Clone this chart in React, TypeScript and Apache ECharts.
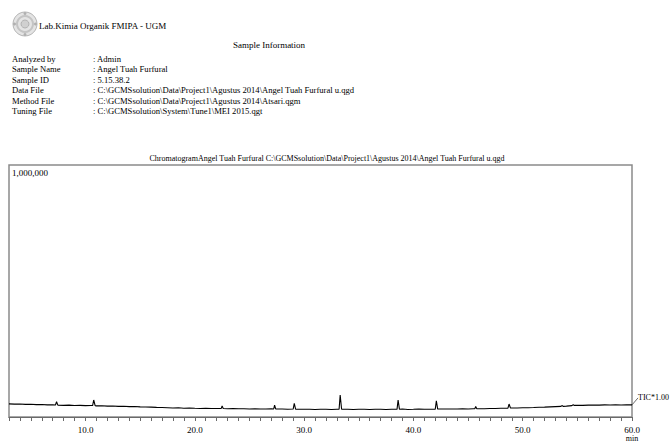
import React, { useEffect, useRef } from "react";
import * as echarts from "echarts";

// ---- header texts ----
const labTitle = "Lab.Kimia Organik FMIPA - UGM";
const infoTitle = "Sample Information";
const infoLabels = ["Analyzed by", "Sample Name", "Sample ID", "Data File", "Method File", "Tuning File"];
const infoValues = [
  ": Admin",
  ": Angel Tuah Furfural",
  ": 5.15.38.2",
  ": C:\\GCMSsolution\\Data\\Project1\\Agustus 2014\\Angel Tuah Furfural u.qgd",
  ": C:\\GCMSsolution\\Data\\Project1\\Agustus 2014\\Atsari.qgm",
  ": C:\\GCMSsolution\\System\\Tune1\\MEI 2015.qgt",
];
const chartTitle =
  "ChromatogramAngel Tuah Furfural C:\\GCMSsolution\\Data\\Project1\\Agustus 2014\\Angel Tuah Furfural u.qgd";
const traceName = "TIC*1.00";
const xUnit = "min";

// ---- axes ----
const xMin = 3;
const xMax = 60;
const xLabelValues = [10, 20, 30, 40, 50, 60];
const yMax = 1000000;
const yLabel = "1,000,000";

// ---- trace (retention time in min, intensity in thousands of counts) ----
const baseline: [number, number][] = [
  [3.0, 52], [3.5, 51], [4.0, 51.5], [4.5, 50], [5.0, 50.5], [5.5, 49], [6.0, 49.5], [6.5, 48],
  [7.0, 48.5], [7.5, 47], [8.0, 46], [8.5, 47], [9.0, 45.5], [9.5, 46], [10.0, 45], [10.5, 45.5],
  [11.0, 44], [11.5, 44.5], [12.0, 43], [12.5, 43.5], [13.0, 42], [13.5, 42.5], [14.0, 41], [14.5, 41.5],
  [15.0, 40], [15.5, 39.5], [16.0, 39], [16.5, 38], [17.0, 37.5], [17.5, 37], [18.0, 36], [18.5, 36.5],
  [19.0, 35], [19.5, 35.5], [20.0, 34.5], [20.5, 34], [21.0, 34.5], [21.5, 33.5], [22.0, 34], [23.0, 33],
  [23.5, 33.5], [24.0, 32.5], [24.5, 33], [25.0, 32], [25.5, 32.5], [26.0, 31.5], [26.5, 32], [27.0, 32.5],
  [27.5, 31.5], [28.0, 32], [28.5, 31], [29.5, 31], [30.0, 30.5], [30.5, 31], [31.0, 30], [31.5, 31],
  [32.0, 30.5], [32.5, 30], [33.0, 30.5], [33.5, 31], [34.0, 30.5], [34.5, 30], [35.0, 31], [35.5, 30.5],
  [36.0, 30], [36.5, 31], [37.0, 30.5], [37.5, 30], [38.0, 31], [39.0, 31.5], [39.5, 30], [40.0, 30.5],
  [40.5, 31.5], [41.0, 31], [41.5, 30.5], [42.5, 31.5], [43.0, 32], [43.5, 31.5], [44.0, 32], [44.5, 32.5],
  [45.0, 32], [45.5, 33], [46.0, 32.5], [46.5, 33], [47.0, 33.5], [47.5, 34], [48.0, 34.5], [48.5, 35],
  [49.0, 36], [49.5, 35.5], [50.0, 36.5], [50.5, 37], [51.0, 37.5], [51.5, 38.5], [52.0, 39], [52.5, 40],
  [53.0, 41], [53.5, 42], [54.0, 43], [54.5, 45], [55.0, 46.5], [55.5, 46], [56.0, 47], [56.5, 47.5],
  [57.0, 47], [57.5, 48], [58.0, 47.5], [58.5, 48], [59.0, 47.5], [59.5, 48], [60.0, 48],
];
const peaks: [number, number][] = [
  [7.25, 47.5], [7.35, 60.5], [7.47, 47],
  [10.65, 45.5], [10.75, 67.5], [10.88, 45],
  [22.42, 34], [22.5, 43.5], [22.6, 33.5],
  [27.22, 32], [27.3, 47.5], [27.4, 32],
  [29.0, 31.5], [29.1, 54.5], [29.22, 31],
  [33.2, 30.5], [33.3, 87.5], [33.43, 30.5],
  [38.5, 30.5], [38.6, 67.5], [38.72, 31],
  [42.0, 31], [42.1, 64.5], [42.22, 31.5],
  [45.62, 32.5], [45.7, 41.5], [45.8, 33],
  [48.65, 35], [48.75, 51.5], [48.88, 35.5],
  [53.55, 41.5], [53.62, 45.5], [53.7, 42],
  [54.55, 45], [54.62, 48.5], [54.7, 46],
];
const UNIT = 1000;

const FONT = "'Liberation Serif', 'DejaVu Serif', serif";

export default function App() {
  const ref = useRef<HTMLDivElement>(null);

  useEffect(() => {
    document.body.style.margin = "0";
    if (!ref.current) return;
    const chart = echarts.init(ref.current, null, { renderer: "svg" });

    const trace = [...baseline, ...peaks]
      .sort((a, b) => a[0] - b[0])
      .map(([t, v]) => [t, v * UNIT]);

    chart.setOption({
      animation: false,
      backgroundColor: "#ffffff",
      title: {
        text: chartTitle,
        left: 322,
        top: 149,
        textAlign: "center",
        textStyle: { fontFamily: FONT, fontSize: 8, fontWeight: "normal", color: "#000" },
      },
      grid: {
        left: 9,
        right: 38,
        top: 165,
        bottom: 24,
        outerBoundsMode: "none",
        containLabel: false,
        show: true,
        borderColor: "#8a8a8a",
        borderWidth: 1.5,
        backgroundColor: "transparent",
      },
      xAxis: {
        type: "value",
        min: xMin,
        max: xMax,
        interval: 1,
        name: xUnit,
        nameLocation: "end",
        nameGap: 0,
        nameTextStyle: {
          fontFamily: FONT,
          fontSize: 8,
          color: "#000",
          align: "center",
          verticalAlign: "top",
          padding: [17, 0, 0, 0],
        },
        axisLine: { show: true, lineStyle: { color: "#6a6a6a", width: 1.2 } },
        axisTick: { show: true, length: 4, lineStyle: { color: "#6a6a6a", width: 1 } },
        axisLabel: {
          fontFamily: FONT,
          fontSize: 9,
          color: "#000",
          margin: 8,
          formatter: (v: number) => (xLabelValues.includes(Math.round(v)) ? v.toFixed(1) : ""),
        },
        splitLine: { show: false },
      },
      yAxis: {
        type: "value",
        min: 0,
        max: yMax,
        interval: yMax,
        axisLine: { show: false },
        axisTick: { show: false },
        splitLine: { show: false },
        axisLabel: {
          inside: true,
          margin: 3,
          verticalAlign: "top",
          fontFamily: FONT,
          fontSize: 9,
          color: "#000",
          padding: [3, 0, 0, 0],
          formatter: (v: number) => (v === yMax ? yLabel : ""),
        },
      },
      series: [
        {
          type: "line",
          name: traceName,
          data: trace,
          symbol: "none",
          lineStyle: { color: "#000", width: 1.1 },
        },
      ],
    });

    const last = trace[trace.length - 1];
    const p = chart.convertToPixel({ xAxisIndex: 0, yAxisIndex: 0 }, last) as number[];

    const header: any[] = [];
    // logo emblem
    header.push({
      type: "group",
      x: 25,
      y: 24,
      children: [
        { type: "circle", shape: { cx: 0, cy: 0, r: 12 }, style: { fill: "#e4e4e4", stroke: "#b5b5b5", lineWidth: 1 } },
        { type: "ring", shape: { cx: 0, cy: 0, r: 9, r0: 7 }, style: { fill: "#c4c4c4" } },
        { type: "circle", shape: { cx: 0, cy: 0, r: 4 }, style: { fill: "#d0d0d0", stroke: "#a8a8a8", lineWidth: 0.8 } },
        { type: "circle", shape: { cx: 0, cy: -10.5, r: 1.5 }, style: { fill: "#b0b0b0" } },
        { type: "circle", shape: { cx: 0, cy: 10.5, r: 1.5 }, style: { fill: "#b0b0b0" } },
        { type: "circle", shape: { cx: -10.5, cy: 0, r: 1.5 }, style: { fill: "#b0b0b0" } },
        { type: "circle", shape: { cx: 10.5, cy: 0, r: 1.5 }, style: { fill: "#b0b0b0" } },
      ],
    });
    header.push({
      type: "text",
      x: 39,
      y: 26,
      style: { text: labTitle, font: `9px ${FONT}`, fill: "#000", textVerticalAlign: "middle" },
    });
    header.push({
      type: "text",
      x: 269,
      y: 45,
      style: { text: infoTitle, font: `9px ${FONT}`, fill: "#000", textAlign: "center", textVerticalAlign: "middle" },
    });
    const rowY = [58.5, 69, 79.5, 90, 100.5, 111];
    infoLabels.forEach((lab, i) => {
      header.push({
        type: "text",
        x: 12,
        y: rowY[i],
        style: { text: lab, font: `8.6px ${FONT}`, fill: "#000", textVerticalAlign: "middle" },
      });
      header.push({
        type: "text",
        x: 93,
        y: rowY[i],
        style: { text: infoValues[i], font: `8.6px ${FONT}`, fill: "#000", textVerticalAlign: "middle" },
      });
    });
    // trace label with leader line from the last point
    header.push({
      type: "line",
      shape: { x1: p[0], y1: p[1], x2: p[0] + 6, y2: p[1] - 7 },
      style: { stroke: "#444", lineWidth: 0.8 },
    });
    header.push({
      type: "text",
      x: p[0] + 6,
      y: p[1] - 7,
      style: { text: traceName, font: `8px ${FONT}`, fill: "#000", textVerticalAlign: "middle" },
    });

    chart.setOption({ graphic: header });

    return () => chart.dispose();
  }, []);

  return <div ref={ref} style={{ width: 670, height: 441 }} />;
}
